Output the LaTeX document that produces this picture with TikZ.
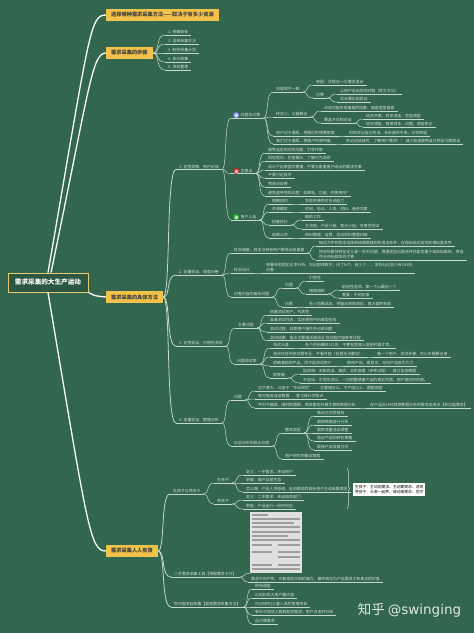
\documentclass[tikz,border=0pt]{standalone}
\usepackage{fontspec}
\setmainfont{Noto Sans CJK SC}
\newfontfamily\markfont{DejaVu Sans}
\usetikzlibrary{calc, decorations.pathreplacing}
\definecolor{board}{HTML}{33664F}
\definecolor{wire}{HTML}{C6D9CC}
\definecolor{ink}{HTML}{D5E3DA}
\definecolor{amber}{HTML}{F3C24A}
\tikzset{
	leaf/.style={anchor=south west, align=left, inner xsep=3pt, inner ysep=0.7pt, text=ink,
		font=\fontsize{3.9}{5}\selectfont,
		append after command={(\tikzlastnode.south west) edge[wire, line width=0.45pt] (\tikzlastnode.south east)}},
	topic/.style={rectangle, fill=amber, anchor=west, text=black!75, minimum height=12.5pt, inner xsep=5pt, inner ysep=0pt,
		font=\fontsize{5.2}{6}\selectfont\bfseries},
	ball/.style={circle, minimum size=6pt, inner sep=0pt, inner color=white, outer color=#1},
	link/.style={wire, line width=0.5pt, to path={.. controls ($(\tikztostart)!0.6!(\tikztotarget |- \tikztostart)$)
		and ($(\tikztotarget)!0.8!(\tikztostart |- \tikztotarget)$) .. (\tikztotarget)}},
	trunk/.style={link, line width=0.8pt},
	main/.style={white!90!wire, line width=1.3pt},
	cardrow/.style={black!38, line width=1.1pt}
}
\begin{document}
\begin{tikzpicture}[x=1pt, y=-1pt]
        \fill[board] (0,0) rectangle (474,633);
        \useasboundingbox (0,0) rectangle (474,633);

        % centre and main topics
        \node[draw=amber!70!wire, line width=0.8pt, fill=board!85!black, text=white, minimum width=80pt, minimum height=19pt, inner sep=0pt,
            font=\fontsize{6.6}{8}\selectfont\bfseries] (root) at (48,282.5) {需求采集的大生产运动};
        \node[topic] (pick) at (106,15) {选择哪种需求采集方法——取决于有多少资源};
        \node[topic] (steps) at (106,53) {需求采集的步骤};
        \node[topic] (ways) at (106,297) {需求采集的具体方法};
        \node[topic] (all) at (106,551) {需求采集人人有责};

        \draw[main] (root.north) .. controls (90,30) and (90,15) .. (pick.west);
        \draw[main] ([xshift=3pt]root.north) .. controls (90,85) and (92,53) .. (steps.west);
        \draw[main, to path={.. controls (95,296) .. (\tikztotarget)}] (root.south east) to (ways.west);
        \draw[main] (root.south) .. controls (88,530) and (90,551) .. (all.west);

        % steps
        \node[leaf] (st1) at (165,35) {1. 明确目标};
        \node[leaf] (st2) at (165,44) {2. 选择采集方法};
        \node[leaf] (st3) at (165,53) {3. 制定采集计划};
        \node[leaf] (st4) at (165,62) {4. 执行采集};
        \node[leaf] (st5) at (165,70) {5. 资料整理};
        \draw[link] (steps.east) to (st1.south west);
        \draw[link] (steps.east) to (st2.south west);
        \draw[link] (steps.east) to (st3.south west);
        \draw[link] (steps.east) to (st4.south west);
        \draw[link] (steps.east) to (st5.south west);

        % sections of the concrete methods
        \node[leaf] (sec1) at (176,169.5) {1. 定性洞察、用户访谈};
        \node[leaf] (sec2) at (176,275) {2. 定量验证、调查问卷};
        \node[leaf] (sec3) at (176,346) {3. 定性验证、可用性测试};
        \node[leaf] (sec4) at (176,423) {4. 定量验证、数据分析};
        \draw[trunk] (ways.east) to (sec1.south west);
        \draw[trunk] (ways.east) to (sec2.south west);
        \draw[trunk] (ways.east) to (sec3.south west);
        \draw[trunk] (ways.east) to (sec4.south west);

        % interviews
        \node[leaf] (prob) at (231,118) {\hspace{6.5pt}问题及对策};
        \node[leaf] (note) at (231,173.5) {\hspace{6.5pt}注意点};
        \node[leaf] (user) at (231,220) {\hspace{6.5pt}用户人选};
        \node[ball=blue!55!white] (probmark) at (236,115) {};
        \node[ball=red!85!black] (notemark) at (236,171) {};
        \node[ball=green!70!black] (usermark) at (236,217) {};
        \draw[link] (sec1.south east) to (prob.south west);
        \draw[link] (sec1.south east) to (note.south west);
        \draw[link] (sec1.south east) to (user.south west);

        \node[leaf] (pa) at (273,92) {流程和不一致};
        \node[leaf] (pb) at (273,117) {样本少、以偏概全};
        \node[leaf] (pc) at (273,136) {用户过于偏爱、把我们的想要答案};
        \node[leaf] (pc1) at (346,136) {时刻牢记自己的话、多听偏听不来、问你倒提};
        \node[leaf] (pd) at (273,144) {我们过于偏爱、把我户所想所做};
        \node[leaf] (pd1) at (343,144) {牢记访谈目的：了解用户需求！！ 减少剧透避免自己预设方案假设};
        \draw[link] (prob.south east) to (pa.south west);
        \draw[link] (prob.south east) to (pb.south west);
        \draw[link] (prob.south east) to (pc.south west);
        \draw[link] (prob.south east) to (pd.south west);
        \draw[link] (pc.south east) to (pc1.south west);
        \draw[link] (pd.south east) to (pd1.south west);

        \node[leaf] (pa1) at (313,85) {原因：沉默过>=与需求适合};
        \node[leaf] (pa2) at (313,98) {对策};
        \node[leaf] (pa3) at (337,94) {让用户说出的同时聊（发生文马）};
        \node[leaf] (pa4) at (337,102) {后台要实际验证};
        \draw[link] (pa.south east) to (pa1.south west);
        \draw[link] (pa.south east) to (pa2.south west);
        \draw[link] (pa2.south east) to (pa3.south west);
        \draw[link] (pa2.south east) to (pa4.south west);

        \node[leaf] (pb1) at (321,111) {访谈可能形成偏差的因素、偏差类型偏差};
        \node[leaf] (pb2) at (321,123) {覆盖方式和对话};
        \node[leaf] (pb3) at (363,119) {组合开票、样本说话、范型调查};
        \node[leaf] (pb4) at (363,127) {组合调查、简单样本、问题、调查修正};
        \draw[link] (pb.south east) to (pb1.south west);
        \draw[link] (pb.south east) to (pb2.south west);
        \draw[link] (pb2.south east) to (pb3.south west);
        \draw[link] (pb2.south east) to (pb4.south west);

        % things to watch
        \node[leaf] (na) at (265,153) {避免选定的对的问题、引导作用};
        \node[leaf] (nb) at (265,161) {回轮提问、任意展示、了解行为说明};
        \node[leaf] (nc) at (265,170) {设计产品原型的要懂、不要太看重用户给出的解决方案};
        \node[leaf] (nd) at (265,178) {不要讨论技术};
        \node[leaf] (ne) at (265,187) {预留访谈费};
        \node[leaf] (nf) at (265,196) {避免虚夸性的问题：如果电、功能、的使用吗?};
        \draw[link] (note.south east) to (na.south west);
        \draw[link] (note.south east) to (nb.south west);
        \draw[link] (note.south east) to (nc.south west);
        \draw[link] (note.south east) to (nd.south west);
        \draw[link] (note.south east) to (ne.south west);
        \draw[link] (note.south east) to (nf.south west);

        % people
        \node[leaf] (ua) at (269,204) {明确目的};
        \node[leaf] (ua1) at (302,204) {争取资源的可协议能力};
        \node[leaf] (ub) at (269,212) {资源确定};
        \node[leaf] (ub1) at (302,212) {时间、地点、人员、材料、备用方案};
        \node[leaf] (uc) at (269,225) {招募执行};
        \node[leaf] (uc1) at (302,220) {输前工作};
        \node[leaf] (uc2) at (302,229) {主流程、产品介绍、焦点小组、可用性测试};
        \node[leaf] (ud) at (269,238) {结果认同};
        \node[leaf] (ud1) at (302,238) {资料整理、运营、活动资料整理归档};
        \draw[link] (user.south east) to (ua.south west);
        \draw[link] (user.south east) to (ub.south west);
        \draw[link] (user.south east) to (uc.south west);
        \draw[link] (user.south east) to (ud.south west);
        \draw[link] (ua.south east) to (ua1.south west);
        \draw[link] (ub.south east) to (ub1.south west);
        \draw[link] (uc.south east) to (uc1.south west);
        \draw[link] (uc.south east) to (uc2.south west);
        \draw[link] (ud.south east) to (ud1.south west);

        % questionnaire
        \node[leaf] (qa) at (231,253) {样本偏差、样本与目标用户群体出现偏差};
        \node[leaf] (qa1) at (316,246) {抽压为中的样本选择和结果群建的所得选条件，在得出结论前找到相似度条件};
        \node[leaf] (qa2) at (316,260) {把目标群体特征定义是一系列问题，根据这些问题来评估是否属于某目标群体，筛选\\符合目标群体的才算};
        \node[leaf] (qb) at (231,273) {样本设计};
        \node[leaf] (qb1) at (263,273) {库量采用固定比率分析、划出固体数字、问了N个、有少个…，但百分比至少有100份\\问卷};
        \node[leaf] (qc) at (231,297) {问卷内容的操作问题};
        \node[leaf] (qc1) at (282,288) {问题};
        \node[leaf] (qc2) at (282,307) {问数};
        \node[leaf] (qc3) at (306,281) {引导性};
        \node[leaf] (qc4) at (306,294) {措施措辞};
        \node[leaf] (qc5) at (339,290) {前进性选项、第一个or最后一个};
        \node[leaf] (qc6) at (339,298) {重复、中间正面};
        \node[leaf] (qc7) at (306,307) {先小范围试设、预留反馈修改后、再大面积投放};
        \draw[link] (sec2.south east) to (qa.south west);
        \draw[link] (sec2.south east) to (qb.south west);
        \draw[link] (sec2.south east) to (qc.south west);
        \draw[link] (qa.south east) to (qa1.south west);
        \draw[link] (qa.south east) to (qa2.south west);
        \draw[link] (qb.south east) to (qb1.south west);
        \draw[link] (qc.south east) to (qc1.south west);
        \draw[link] (qc.south east) to (qc2.south west);
        \draw[link] (qc1.south east) to (qc3.south west);
        \draw[link] (qc1.south east) to (qc4.south west);
        \draw[link] (qc4.south east) to (qc5.south west);
        \draw[link] (qc4.south east) to (qc6.south west);
        \draw[link] (qc2.south east) to (qc7.south west);

        % usability test
        \node[leaf] (ta) at (235,328) {主要过程};
        \node[leaf] (ta1) at (267,315) {招募测试用户、代表性};
        \node[leaf] (ta2) at (267,323) {准备测试任务、实际使用中的典型任务};
        \node[leaf] (ta3) at (267,332) {测试过程、观察用户操作并记录问题};
        \node[leaf] (ta4) at (267,340.5) {测试结果：指示主要通话错误点 找问题内容原考过程};
        \node[leaf] (tb) at (234,364) {问题和对策};
        \node[leaf] (tb1) at (270,348) {测试大道};
        \node[leaf] (tb1a) at (302,348) {务个时间最好3以务、不要在官网上提前时看才慌。};
        \node[leaf] (tb2) at (270,357) {测试任务的测试要专业、不看开题（前提无法要议）};
        \node[leaf] (tb2a) at (374,357) {唯一个用户、测试步骤、在以天报酬记录};
        \node[leaf] (tb3) at (270,366) {明确激励的产品、而不是测试用户};
        \node[leaf] (tb3a) at (344,366) {使用产品、提意见、任何产品吸引方力};
        \node[leaf] (tb4) at (270,378) {观察者};
        \node[leaf] (tb4a) at (300,374) {因观想、无知的话、事项、全布部理（参考过程）：建立信息眼题};
        \node[leaf] (tb4b) at (300,383) {不说话、引导陈述比、一切把握感建产品的真实的情、用户相对好的感。};
        \draw[link] (sec3.south east) to (ta.south west);
        \draw[link] (sec3.south east) to (tb.south west);
        \draw[link] (ta.south east) to (ta1.south west);
        \draw[link] (ta.south east) to (ta2.south west);
        \draw[link] (ta.south east) to (ta3.south west);
        \draw[link] (ta.south east) to (ta4.south west);
        \draw[link] (tb.south east) to (tb1.south west);
        \draw[link] (tb.south east) to (tb2.south west);
        \draw[link] (tb.south east) to (tb3.south west);
        \draw[link] (tb.south east) to (tb4.south west);
        \draw[link] (tb1.south east) to (tb1a.south west);
        \draw[link] (tb2.south east) to (tb2a.south west);
        \draw[link] (tb3.south east) to (tb3a.south west);
        \draw[link] (tb4.south east) to (tb4a.south west);
        \draw[link] (tb4.south east) to (tb4b.south west);

        % data analysis
        \node[leaf] (da) at (231,400) {问题};
        \node[leaf] (da1) at (255,391) {过于更大、沉迷于“专业研究”};
        \node[leaf] (da1a) at (317,391) {注重相点以、不产组以上、图题调查};
        \node[leaf] (da2) at (255,399) {有可能会误读数据};
        \node[leaf] (da2a) at (293,399) {掌习统计学知识};
        \node[leaf] (da3) at (255,408) {平时不痛底、随时取圈数、根本暂定好做才想到数据分析};
        \node[leaf] (da3a) at (367,408) {在产品设计时就把数据分析的需求加进去【非功能需求】};
        \node[leaf] (db) at (231,446) {日志分析的商业价值};
        \node[leaf] (db1) at (282,433) {整体类型};
        \node[leaf] (db2) at (282,459) {用户研究的基本数据};
        \node[leaf] (dc1) at (314,416) {推出方向性指标};
        \node[leaf] (dc2) at (314,425) {跟踪数据进行分析};
        \node[leaf] (dc3) at (314,433) {跟踪竞量活动调整};
        \node[leaf] (dc4) at (314,441) {验证产品的转化策略};
        \node[leaf] (dc5) at (314,450) {版接产品发展方向};
        \draw[link] (sec4.south east) to (da.south west);
        \draw[link] (sec4.south east) to (db.south west);
        \draw[link] (da.south east) to (da1.south west);
        \draw[link] (da.south east) to (da2.south west);
        \draw[link] (da.south east) to (da3.south west);
        \draw[link] (da1.south east) to (da1a.south west);
        \draw[link] (da2.south east) to (da2a.south west);
        \draw[link] (da3.south east) to (da3a.south west);
        \draw[link] (db.south east) to (db1.south west);
        \draw[link] (db.south east) to (db2.south west);
        \draw[link] (db1.south east) to (dc1.south west);
        \draw[link] (db1.south east) to (dc2.south west);
        \draw[link] (db1.south east) to (dc3.south west);
        \draw[link] (db1.south east) to (dc4.south west);
        \draw[link] (db1.south east) to (dc5.south west);

        % everyone collects
        \node[leaf] (ka) at (170,494) {生孩子与养孩子};
        \node[leaf] (kb) at (171,577) {二手需求采集工具【举报需求卡片】};
        \node[leaf] (kc) at (171,607) {你可能发起采集【其他需求采集方法】};
        \draw[trunk] (all.east) to (ka.south west);
        \draw[trunk] (all.east) to (kb.south west);
        \draw[trunk] (all.east) to (kc.south west);

        \node[leaf] (ka1) at (214,483) {生孩子};
        \node[leaf] (ka2) at (214,504) {养孩子};
        \node[leaf] (ka1a) at (243,475) {定义：一手需求、来自用户};
        \node[leaf] (ka1b) at (243,483) {职能：偏产品前生态};
        \node[leaf] (ka1c) at (243,492) {怎么做：产品人员感谢、走向微信的目标用户主动采集需求};
        \node[leaf] (ka2a) at (243,500) {定义：二手需求、来自相关部门};
        \node[leaf] (ka2b) at (243,509) {职能：产品运行一段时间后};
        \draw[link] (ka.south east) to (ka1.south west);
        \draw[link] (ka.south east) to (ka2.south west);
        \draw[link] (ka1.south east) to (ka1a.south west);
        \draw[link] (ka1.south east) to (ka1b.south west);
        \draw[link] (ka1.south east) to (ka1c.south west);
        \draw[link] (ka2.south east) to (ka2a.south west);
        \draw[link] (ka2.south east) to (ka2b.south west);

        \coordinate (bracetop) at (347,468);
        \coordinate (bracebot) at (347,509);
        \draw[wire, line width=0.5pt, decorate, decoration={brace, amplitude=2.5pt}] (bracetop) -- (bracebot);
        \node[fill=white, text=black, align=left, inner sep=1.5pt, anchor=west, minimum width=72pt, minimum height=13pt,
            font=\fontsize{3.8}{4.9}\selectfont] (sum) at (353,489.5) {生孩子：主动回需求、主动要需求、进现\\养孩子：大家一起养、被动接需求、您守};

        % the card picture
        \node[fill=white!88!black, anchor=north west, minimum width=52pt, minimum height=61pt, inner sep=0pt] (card) at (250,512) {};
        \draw[cardrow] ([xshift=2pt,yshift=-3pt]card.north west) -- ([xshift=18pt,yshift=-3pt]card.north west);
        \draw[cardrow] ([xshift=2pt,yshift=-7pt]card.north west) -- ([xshift=-2pt,yshift=-7pt]card.north east);
        \draw[cardrow] ([xshift=2pt,yshift=-11pt]card.north west) -- ([xshift=-8pt,yshift=-11pt]card.north east);
        \draw[cardrow] ([xshift=2pt,yshift=-15pt]card.north west) -- ([xshift=-2pt,yshift=-15pt]card.north east);
        \draw[cardrow] ([xshift=2pt,yshift=-20pt]card.north west) -- ([xshift=-2pt,yshift=-20pt]card.north east);
        \draw[cardrow] ([xshift=2pt,yshift=-24pt]card.north west) -- ([xshift=-14pt,yshift=-24pt]card.north east);
        \draw[cardrow] ([xshift=2pt,yshift=-28pt]card.north west) -- ([xshift=-2pt,yshift=-28pt]card.north east);
        \draw[cardrow] ([xshift=2pt,yshift=-33pt]card.north west) -- ([xshift=22pt,yshift=-33pt]card.north west);
        \draw[cardrow] ([xshift=28pt,yshift=-33pt]card.north west) -- ([xshift=-2pt,yshift=-33pt]card.north east);
        \draw[cardrow] ([xshift=2pt,yshift=-40pt]card.north west) -- ([xshift=22pt,yshift=-40pt]card.north west);
        \draw[cardrow] ([xshift=28pt,yshift=-40pt]card.north west) -- ([xshift=-2pt,yshift=-40pt]card.north east);
        \draw[cardrow] ([xshift=28pt,yshift=-45pt]card.north west) -- ([xshift=-2pt,yshift=-45pt]card.north east);
        \draw[cardrow] ([xshift=2pt,yshift=-53pt]card.north west) -- ([xshift=22pt,yshift=-53pt]card.north west);
        \draw[cardrow] ([xshift=28pt,yshift=-53pt]card.north west) -- ([xshift=-2pt,yshift=-53pt]card.north east);
        \draw[cardrow] ([xshift=2pt,yshift=-57pt]card.north west) -- ([xshift=-2pt,yshift=-57pt]card.north east);
        \node[leaf] (kb1) at (248,582) {需求中间产物、可着造成文档的偏力、最终转化为产品需求才有真正的价值};
        \draw[link] (kb.south east) to (card.south west);
        \draw[link] (kb.south east) to (kb1.south west);

        \node[leaf] (kc1) at (252,589) {现场调查};
        \node[leaf] (kc2) at (252,598) {A/B测试(大用户量内容};
        \node[leaf] (kc3) at (252,607) {日记研究(少量人员的使用体会};
        \node[leaf] (kc4) at (252,615) {有针对测试人群和起完需求、用户访谈并分析};
        \node[leaf] (kc5) at (252,624) {自己做需求};
        \draw[link] (kc.south east) to (kc1.south west);
        \draw[link] (kc.south east) to (kc2.south west);
        \draw[link] (kc.south east) to (kc3.south west);
        \draw[link] (kc.south east) to (kc4.south west);
        \draw[link] (kc.south east) to (kc5.south west);

        \node[text=white!85!board, inner sep=0pt, font=\fontsize{13.5}{15}\selectfont] (mark) at (409.5,610.5) {知乎 {\markfont @swinging}};
    \end{tikzpicture}
\end{document}
